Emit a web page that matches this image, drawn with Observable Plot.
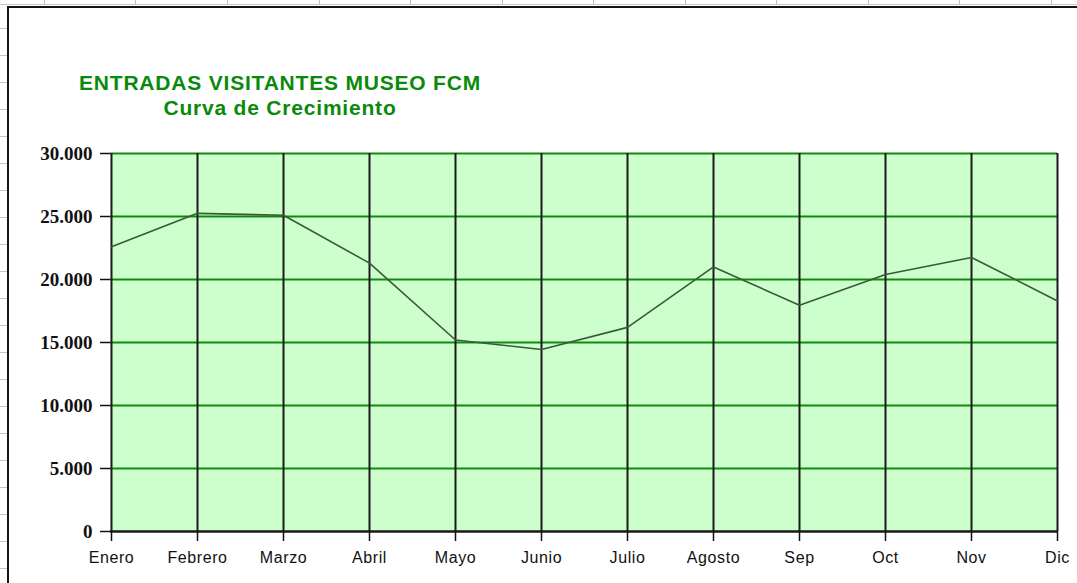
<!DOCTYPE html>
<html><head><meta charset="utf-8">
<script src="https://cdn.jsdelivr.net/npm/d3@7"></script>
<script src="https://cdn.jsdelivr.net/npm/@observablehq/plot@0.6"></script>
<style>
html,body{margin:0;padding:0;background:#fff;}
body{width:1077px;height:583px;overflow:hidden;position:relative;font-family:"Liberation Sans",Arial,sans-serif;}
#topstrip{position:absolute;left:0;top:0;width:1077px;height:4px;border-bottom:1px solid #c8c8c8;
  background:repeating-linear-gradient(to right,transparent 0 44px,#bdbdbd 44px 45px,transparent 45px 91.5px);}
#leftstrip{position:absolute;left:0;top:2px;width:7px;height:581px;
  background:repeating-linear-gradient(to bottom,transparent 0 26px,#c4c4c4 26px 27px);}
#frame{position:absolute;left:7px;top:6px;width:1100px;height:600px;border-left:2px solid #151515;border-top:2px solid #151515;background:#fff;}
#title{position:absolute;left:0;top:70px;width:560px;text-align:center;color:#0a8a0a;font-weight:bold;font-size:21px;line-height:25px;letter-spacing:0.8px;z-index:3;}
#chart{position:absolute;left:0;top:0;z-index:2;}
.c g[aria-label="x-axis tick label"] text{letter-spacing:0.6px;}
</style>
</head><body>
<div id="topstrip"></div>
<div id="leftstrip"></div>
<div id="frame"></div>
<div id="title">ENTRADAS VISITANTES MUSEO FCM<br>Curva de Crecimiento</div>
<div id="chart"></div>
<script>
const months = ["Enero","Febrero","Marzo","Abril","Mayo","Junio","Julio","Agosto","Sep","Oct","Nov","Dic"];
const visitors = [22600,25250,25100,21300,15200,14450,16200,21000,17950,20400,21750,18300];
const yTicks = [0,5000,10000,15000,20000,25000,30000];
const yTickLabels = ["0","5.000","10.000","15.000","20.000","25.000","30.000"];

const data = months.map((m,i)=>({month:m, value:visitors[i]}));

const chart = Plot.plot({
  className:"c",
  width:1077, height:583,
  marginLeft:110, marginRight:20, marginTop:153, marginBottom:52,
  style:{background:"transparent", overflow:"visible", color:"#111"},
  x:{type:"point", domain:months, padding:0, label:null},
  y:{domain:[0,30000], label:null},
  marks:[
    Plot.frame({fill:"#ccffcc", stroke:null}),
    Plot.ruleY(yTicks.slice(1), {stroke:"#0f8c0f", strokeWidth:2}),
    Plot.ruleX(months, {stroke:"#1a1a1a", strokeWidth:2}),
    Plot.ruleY([0], {stroke:"#1a1a1a", strokeWidth:2.5}),
    Plot.line(data, {x:"month", y:"value", stroke:"#3a583a", strokeWidth:1.6}),
    Plot.axisY({ticks:yTicks, tickFormat:d=>yTickLabels[yTicks.indexOf(d)], tickSize:10, tickPadding:8,
      fontSize:19, fontWeight:"bold", fontFamily:"Liberation Serif", strokeWidth:1.5}),
    Plot.axisX({tickSize:10, tickPadding:10, fontSize:16, fontFamily:"Liberation Sans", strokeWidth:1.5})
  ]
});
document.getElementById("chart").appendChild(chart);
</script>
</body></html>
